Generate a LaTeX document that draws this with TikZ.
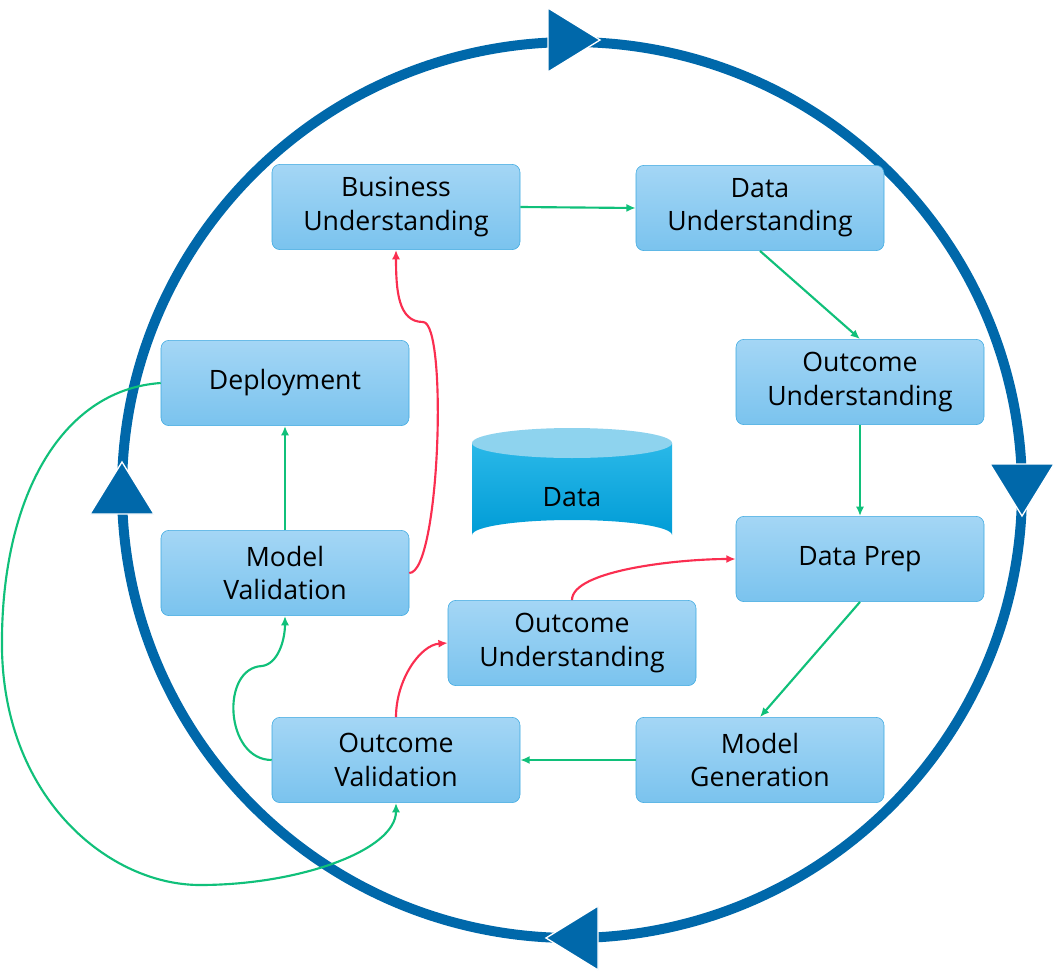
\documentclass[tikz,border=0pt]{standalone}
\usepackage{fontspec}
\setmainfont{Open Sans}
\usetikzlibrary{arrows.meta}
\definecolor{ring}{HTML}{0068AA}
\definecolor{gr}{HTML}{10C07A}
\definecolor{rd}{HTML}{FA2E50}
\definecolor{bt}{HTML}{A4D6F5}
\definecolor{bb}{HTML}{7AC3EE}
\definecolor{bd}{HTML}{3AA8E0}
\definecolor{ct}{HTML}{8ED3EE}
\definecolor{c1}{HTML}{2AB8E8}
\definecolor{c2}{HTML}{009CD6}
\tikzset{
 box/.style={draw=bd,rounded corners=6pt,minimum width=186pt,minimum height=64pt,top color=bt,bottom color=bb,align=center,font=\fontsize{20}{25}\selectfont,inner sep=0pt},
 ga/.style={draw=gr,line width=1.6pt,-{Latex[length=7pt,width=6pt]}},
 ra/.style={draw=rd,line width=1.6pt,-{Latex[length=7pt,width=6pt]}},
 tri/.style={fill=ring,draw=white,line width=1pt}
}
\begin{document}
\begin{tikzpicture}[x=0.75pt,y=-0.75pt]
\useasboundingbox (0,0) rectangle (1061,978);
\draw[ring,line width=7.5pt] (572,490) ellipse (450 and 448);
\draw[tri] (548,8) -- (600,40) -- (548,72) -- cycle;
\draw[tri] (990,464) -- (1054,464) -- (1022,516) -- cycle;
\draw[tri] (598,906) -- (546,938) -- (598,970) -- cycle;
\draw[tri] (90,514) -- (154,514) -- (122,462) -- cycle;
\node[box] (bu) at (396,207) {Business\\Understanding};
\node[box] (du) at (760,208) {Data\\Understanding};
\node[box] (ou) at (860,382) {Outcome\\Understanding};
\node[box] (dp) at (860,559) {Data Prep};
\node[box] (mg) at (760,760) {Model\\Generation};
\node[box] (ov) at (396,760) {Outcome\\Validation};
\node[box] (mo) at (572,643) {Outcome\\Understanding};
\node[box] (mv) at (285,573) {Model\\Validation};
\node[box] (de) at (285,383) {Deployment};
\shade[top color=c1,bottom color=c2] (472,443) -- (472,535) arc[start angle=180,end angle=360,x radius=100,y radius=15] -- (672,443) -- cycle;
\fill[ct] (572,443) ellipse (100 and 15);
\node[font=\fontsize{20}{25}\selectfont] (da) at (572,497) {Data};
\draw[ga] (bu.east) -- (du.west);
\draw[ga] (du.south) -- (ou.north);
\draw[ga] (ou.south) -- (dp.north);
\draw[ga] (dp.south) -- (mg.north);
\draw[ga] (mg.west) -- (ov.east);
\draw[ga] (ov.west) .. controls (225,760) and (220,668) .. (262,666) .. controls (278,664) and (285,640) .. (mv.south);
\draw[ga] (mv.north) -- (de.south);
\draw[ra] (mv.east) .. controls (440,573) and (448,322) .. (423,322) .. controls (398,322) and (396,290) .. (bu.south);
\draw[ra] (ov.north) .. controls (396,680) and (420,645) .. (mo.west);
\draw[ra] (mo.north) .. controls (572,570) and (680,559) .. (dp.west);
\draw[ga] (de.west) .. controls (60,390) and (0,500) .. (2,650) .. controls (5,800) and (110,885) .. (200,885) .. controls (300,885) and (396,850) .. (ov.south);
\end{tikzpicture}
\end{document}
